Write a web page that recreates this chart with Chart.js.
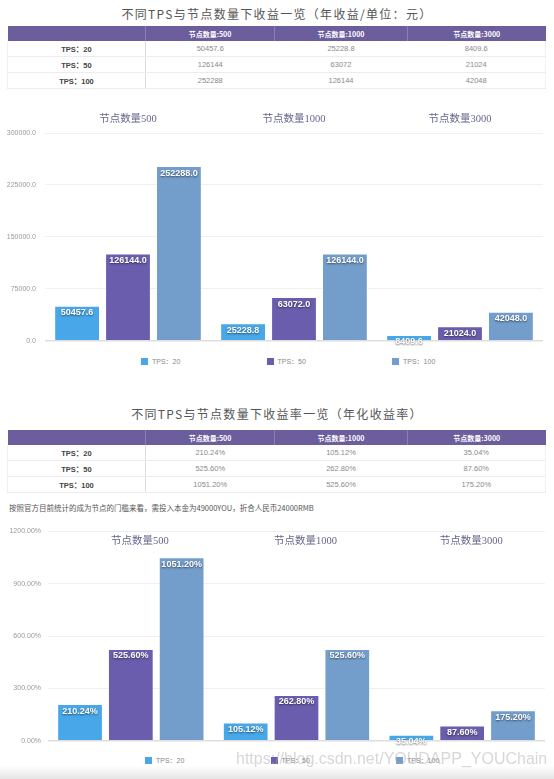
<!DOCTYPE html>
<html>
<head>
<meta charset="utf-8">
<script src="https://cdn.jsdelivr.net/npm/chart.js@4.4.1/dist/chart.umd.min.js"></script>
<style>
  html, body { margin: 0; padding: 0; background: #fff; }
  body { width: 554px; height: 779px; position: relative; overflow: hidden;
         font-family: "Liberation Sans", "Noto Sans CJK SC", sans-serif; }
  .title { position: absolute; left: 0; width: 554px; text-align: center;
           font-family: "Noto Sans CJK SC", sans-serif; font-size: 12px; letter-spacing: 1.3px;
           color: #555; line-height: 16px; }
  table.t { position: absolute; left: 7px; width: 538px; border-collapse: collapse;
            table-layout: fixed; font-size: 7.5px; }
  table.t th { background: #6c5e9d; color: #fff; font-weight: bold; height: 15px; padding: 0;
               border-left: 1px solid #8a80b5; font-family: "Noto Sans CJK SC", sans-serif; font-size: 7px; }
  table.t th:first-child { border-left: none; }
  table.t td { height: 15px; padding: 0; text-align: center; color: #8a8a8a;
               border-bottom: 1px solid #ececec; }
  table.t td.lab { color: #444; font-weight: bold; border-right: 1px solid #dcdcdc; }
  table.t tr td:first-child { border-left: 1px solid #f0f0f0; }
  table.t tr td:last-child { border-right: 1px solid #f0f0f0; }
  canvas { position: absolute; left: 0; }
  .legend { position: absolute; display: flex; height: 10px; font-size: 7px; color: #888; }
  .legend .item { display: flex; align-items: center; }
  .legend .box { width: 7px; height: 7px; margin-right: 4px; }
  .note { position: absolute; left: 9px; top: 502px; font-size: 7.5px; color: #555;
          font-family: "Noto Sans CJK SC", sans-serif; line-height: 12px; }
  .wm { position: absolute; left: 236px; top: 750px; font-size: 16px; color: rgba(175,175,175,0.5);
        font-family: "Liberation Sans", sans-serif; white-space: nowrap; }
  .shade { position: absolute; left: 0; top: 766px; width: 554px; height: 13px;
           background: linear-gradient(to bottom, rgba(230,230,230,0), rgba(225,225,225,0.9)); }
</style>
</head>
<body>
<div class="title" style="top:6px">不同TPS与节点数量下收益一览（年收益/单位：元）</div>
<table class="t" id="table1" style="top:26px"></table>
<canvas id="c1" width="554" height="254" style="top:100px"></canvas>
<div class="legend" id="lg1" style="left:141px; top:356px"></div>

<div class="title" style="top:406px">不同TPS与节点数量下收益率一览（年化收益率）</div>
<table class="t" id="table2" style="top:430px"></table>
<div class="note">按照官方目前统计的成为节点的门槛来看，需投入本金为49000YOU，折合人民币24000RMB</div>
<canvas id="c2" width="554" height="232" style="top:520px"></canvas>
<div class="legend" id="lg2" style="left:145px; top:755px"></div>
<div class="wm">https://blog.csdn.net/YOUDAPP_YOUChain</div>
<div class="shade"></div>

<script>
// ---------- data ----------
const categories = ['节点数量500', '节点数量1000', '节点数量3000'];
const tableHeaders = ['节点数量:500', '节点数量:1000', '节点数量:3000'];
const seriesNames = ['TPS：20', 'TPS：50', 'TPS：100'];
const seriesColors = ['#48a7e8', '#6b5dad', '#739dcb'];

const income_tps20  = [50457.6, 25228.8, 8409.6];
const income_tps50  = [126144, 63072, 21024];
const income_tps100 = [252288, 126144, 42048];

const rate_tps20  = [210.24, 105.12, 35.04];
const rate_tps50  = [525.60, 262.80, 87.60];
const rate_tps100 = [1051.20, 525.60, 175.20];

const incomeTicks = [0, 75000, 150000, 225000, 300000];
const rateTicks = [0, 300, 600, 900, 1200];

const incomeSeries = [income_tps20, income_tps50, income_tps100];
const rateSeries = [rate_tps20, rate_tps50, rate_tps100];

// ---------- tables ----------
function buildTable(id, series, fmt) {
  const t = document.getElementById(id);
  let html = '<colgroup><col style="width:138px"><col style="width:129px"><col style="width:133px"><col style="width:138px"></colgroup>';
  html += '<tr><th></th>' + tableHeaders.map(h => '<th>' + h + '</th>').join('') + '</tr>';
  series.forEach((vals, i) => {
    html += '<tr><td class="lab">' + seriesNames[i] + '</td>' +
      vals.map(v => '<td>' + fmt(v) + '</td>').join('') + '</tr>';
  });
  t.innerHTML = html;
}
buildTable('table1', incomeSeries, v => String(v));
buildTable('table2', rateSeries, v => v.toFixed(2) + '%');

// ---------- charts ----------
const valueLabels = {
  id: 'valueLabels',
  afterDatasetsDraw(chart, args, opts) {
    const ctx = chart.ctx;
    ctx.save();
    ctx.font = 'bold 9px "Liberation Sans", sans-serif';
    ctx.textAlign = 'center';
    ctx.textBaseline = 'middle';
    ctx.fillStyle = '#fff';
    ctx.shadowColor = 'rgba(0,0,0,0.55)';
    ctx.shadowBlur = 2;
    ctx.shadowOffsetX = 0;
    ctx.shadowOffsetY = 1;
    chart.data.datasets.forEach((ds, di) => {
      const meta = chart.getDatasetMeta(di);
      meta.data.forEach((el, i) => {
        ctx.fillText(opts.fmt(ds.data[i]), el.x, el.y + 7);
      });
    });
    ctx.restore();
  }
};

function makeDatasets(series) {
  return series.map((vals, i) => ({
    label: seriesNames[i],
    data: vals,
    backgroundColor: seriesColors[i],
    borderColor: 'rgba(255,255,255,0.55)',
    borderWidth: 1,
    categoryPercentage: 0.92,
    barPercentage: 0.9
  }));
}

function makeChart(id, series, ticks, fmtTick, fmtVal, geom) {
  return new Chart(document.getElementById(id), {
    type: 'bar',
    data: { labels: categories, datasets: makeDatasets(series) },
    plugins: [valueLabels],
    options: {
      responsive: false,
      animation: false,
      layout: { padding: geom.padding },
      plugins: {
        legend: { display: false },
        tooltip: { enabled: false },
        valueLabels: { fmt: fmtVal }
      },
      scales: {
        x: {
          position: 'top',
          grid: { display: false },
          border: { display: false },
          ticks: {
            padding: geom.xPad,
            mirror: geom.xMirror,
            labelOffset: geom.xOffset,
            color: '#66668e',
            font: { family: '"Liberation Serif", "Noto Sans CJK SC", serif', size: 10.5 }
          },
          afterFit: s => { s.height = geom.xHeight; }
        },
        y: {
          min: ticks[0],
          max: ticks[ticks.length - 1],
          afterBuildTicks: s => { s.ticks = ticks.map(v => ({ value: v })); },
          grid: {
            drawTicks: false,
            color: c => (c.tick && c.tick.value === 0) ? '#dedede' : '#f0f0f0',
            lineWidth: c => (c.tick && c.tick.value === 0) ? 1.5 : 1
          },
          border: { display: false },
          ticks: {
            padding: geom.yPad,
            color: '#999',
            font: { family: '"Liberation Sans", sans-serif', size: 7 },
            callback: v => fmtTick(v)
          },
          afterFit: s => { s.width = geom.yWidth; }
        }
      }
    }
  });
}

const chart1 = makeChart('c1', incomeSeries, incomeTicks,
  v => v.toFixed(1), v => v.toFixed(1),
  { padding: { top: 0, right: 11, bottom: 10, left: 0 }, xHeight: 33, xPad: -1, xMirror: false, xOffset: 0, yWidth: 45, yPad: 9 });

const chart2 = makeChart('c2', rateSeries, rateTicks,
  v => v.toFixed(2) + '%', v => v.toFixed(2) + '%',
  { padding: { top: 11, right: 9, bottom: 10, left: 0 }, xHeight: 0, xPad: 4, xMirror: true, xOffset: 9, yWidth: 48, yPad: 7 });

function buildLegend(chart, elId, itemWidth) {
  const el = document.getElementById(elId);
  chart.data.datasets.forEach(ds => {
    const item = document.createElement('div');
    item.className = 'item';
    item.style.width = itemWidth + 'px';
    const box = document.createElement('span');
    box.className = 'box';
    box.style.background = ds.backgroundColor;
    const txt = document.createElement('span');
    txt.textContent = ds.label;
    item.appendChild(box);
    item.appendChild(txt);
    el.appendChild(item);
  });
}
buildLegend(chart1, 'lg1', 125.5);
buildLegend(chart2, 'lg2', 125.5);
</script>
</body>
</html>
